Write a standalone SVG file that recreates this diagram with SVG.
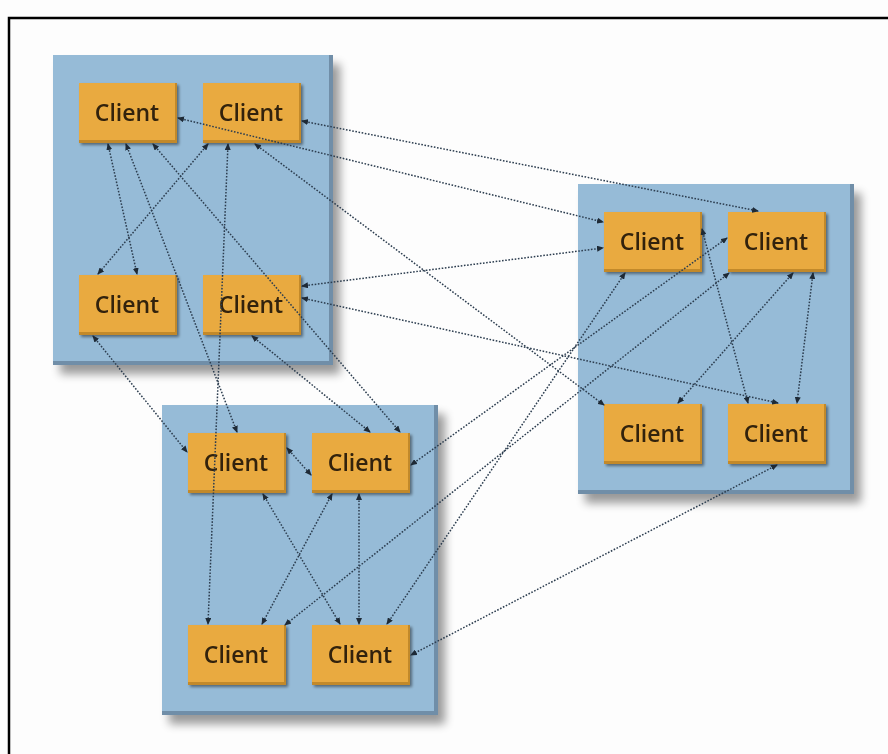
<svg xmlns="http://www.w3.org/2000/svg" width="888" height="754" viewBox="0 0 888 754">
<style>
.cl{fill:#96bbd7;}
.cle{fill:#6f8ea8;}
.nd{fill:#e9aa3f;}
.nde{fill:#c2892c;}
.tx{font-family:"Open Sans","DejaVu Sans",sans-serif;font-size:23px;font-weight:600;fill:#33230d;text-anchor:middle;}
.e{fill:none;stroke:#2c3d4f;stroke-width:1.5;stroke-dasharray:1.6 1.6;marker-start:url(#ah);marker-end:url(#ah);}
</style>
<defs>
<filter id="sh" x="-10%" y="-10%" width="130%" height="130%">
<feGaussianBlur in="SourceAlpha" stdDeviation="5"/>
<feOffset dx="7" dy="9"/>
<feComponentTransfer><feFuncA type="linear" slope="0.4"/></feComponentTransfer>
<feMerge><feMergeNode/><feMergeNode in="SourceGraphic"/></feMerge>
</filter>
<filter id="nsh" x="-10%" y="-10%" width="130%" height="130%">
<feGaussianBlur in="SourceAlpha" stdDeviation="1.5"/>
<feOffset dx="2" dy="2"/>
<feComponentTransfer><feFuncA type="linear" slope="0.45"/></feComponentTransfer>
<feMerge><feMergeNode/><feMergeNode in="SourceGraphic"/></feMerge>
</filter>
<marker id="ah" markerWidth="7" markerHeight="6" refX="6" refY="3" orient="auto-start-reverse" markerUnits="userSpaceOnUse">
<path d="M0,0 L7,3 L0,6 z" fill="#1e2a36"/>
</marker>
</defs>
<rect x="0" y="0" width="888" height="754" fill="#fdfdfd"/>
<path d="M9,760 V18 H900" fill="none" stroke="#000" stroke-width="2.5"/>

<g id="cluster1" filter="url(#sh)"><rect class="cle" x="53" y="55" width="280" height="310"/><rect class="cl" x="53" y="55" width="276" height="306"/></g>
<g id="cluster2" filter="url(#sh)"><rect class="cle" x="578" y="184" width="276" height="310"/><rect class="cl" x="578" y="184" width="272" height="306"/></g>
<g id="cluster3" filter="url(#sh)"><rect class="cle" x="162" y="405" width="276" height="310"/><rect class="cl" x="162" y="405" width="272" height="306"/></g>

<g id="A1" filter="url(#nsh)"><rect class="nde" x="79" y="83" width="98" height="60"/><rect class="nd" x="79" y="83" width="96" height="57"/><text class="tx" x="127" y="121">Client</text></g>
<g id="A2" filter="url(#nsh)"><rect class="nde" x="203" y="83" width="98" height="60"/><rect class="nd" x="203" y="83" width="96" height="57"/><text class="tx" x="251" y="121">Client</text></g>
<g id="A3" filter="url(#nsh)"><rect class="nde" x="79" y="275" width="98" height="60"/><rect class="nd" x="79" y="275" width="96" height="57"/><text class="tx" x="127" y="313">Client</text></g>
<g id="A4" filter="url(#nsh)"><rect class="nde" x="203" y="275" width="98" height="60"/><rect class="nd" x="203" y="275" width="96" height="57"/><text class="tx" x="251" y="313">Client</text></g>

<g id="B1" filter="url(#nsh)"><rect class="nde" x="604" y="212" width="98" height="60"/><rect class="nd" x="604" y="212" width="96" height="57"/><text class="tx" x="652" y="250">Client</text></g>
<g id="B2" filter="url(#nsh)"><rect class="nde" x="728" y="212" width="98" height="60"/><rect class="nd" x="728" y="212" width="96" height="57"/><text class="tx" x="776" y="250">Client</text></g>
<g id="B3" filter="url(#nsh)"><rect class="nde" x="604" y="404" width="98" height="60"/><rect class="nd" x="604" y="404" width="96" height="57"/><text class="tx" x="652" y="442">Client</text></g>
<g id="B4" filter="url(#nsh)"><rect class="nde" x="728" y="404" width="98" height="60"/><rect class="nd" x="728" y="404" width="96" height="57"/><text class="tx" x="776" y="442">Client</text></g>

<g id="C1" filter="url(#nsh)"><rect class="nde" x="188" y="433" width="98" height="60"/><rect class="nd" x="188" y="433" width="96" height="57"/><text class="tx" x="236" y="471">Client</text></g>
<g id="C2" filter="url(#nsh)"><rect class="nde" x="312" y="433" width="98" height="60"/><rect class="nd" x="312" y="433" width="96" height="57"/><text class="tx" x="360" y="471">Client</text></g>
<g id="C3" filter="url(#nsh)"><rect class="nde" x="188" y="625" width="98" height="60"/><rect class="nd" x="188" y="625" width="96" height="57"/><text class="tx" x="236" y="663">Client</text></g>
<g id="C4" filter="url(#nsh)"><rect class="nde" x="312" y="625" width="98" height="60"/><rect class="nd" x="312" y="625" width="96" height="57"/><text class="tx" x="360" y="663">Client</text></g>

<g id="connectors">
<line class="e" x1="178" y1="118" x2="603" y2="222"/>
<line class="e" x1="302" y1="121" x2="758" y2="211"/>
<line class="e" x1="255" y1="144" x2="604" y2="405"/>
<line class="e" x1="302" y1="286" x2="603" y2="248"/>
<line class="e" x1="302" y1="298" x2="778" y2="403"/>
<line class="e" x1="702" y1="229" x2="748" y2="403"/>
<line class="e" x1="813" y1="273" x2="797" y2="403"/>
<line class="e" x1="793" y1="273" x2="678" y2="403"/>
<line class="e" x1="729" y1="273" x2="285" y2="625"/>
<line class="e" x1="727" y1="238" x2="411" y2="465"/>
<line class="e" x1="625" y1="273" x2="387" y2="624"/>
<line class="e" x1="777" y1="465" x2="411" y2="655"/>
<line class="e" x1="252" y1="336" x2="370" y2="432"/>
<line class="e" x1="153" y1="144" x2="400" y2="432"/>
<line class="e" x1="126" y1="144" x2="237" y2="432"/>
<line class="e" x1="228" y1="144" x2="208" y2="624"/>
<line class="e" x1="93" y1="336" x2="187" y2="452"/>
<line class="e" x1="108" y1="144" x2="137" y2="274"/>
<line class="e" x1="208" y1="144" x2="98" y2="274"/>
<line class="e" x1="287" y1="448" x2="311" y2="475"/>
<line class="e" x1="263" y1="494" x2="340" y2="624"/>
<line class="e" x1="332" y1="494" x2="262" y2="624"/>
<line class="e" x1="359" y1="494" x2="359" y2="624"/>
</g>
</svg>
